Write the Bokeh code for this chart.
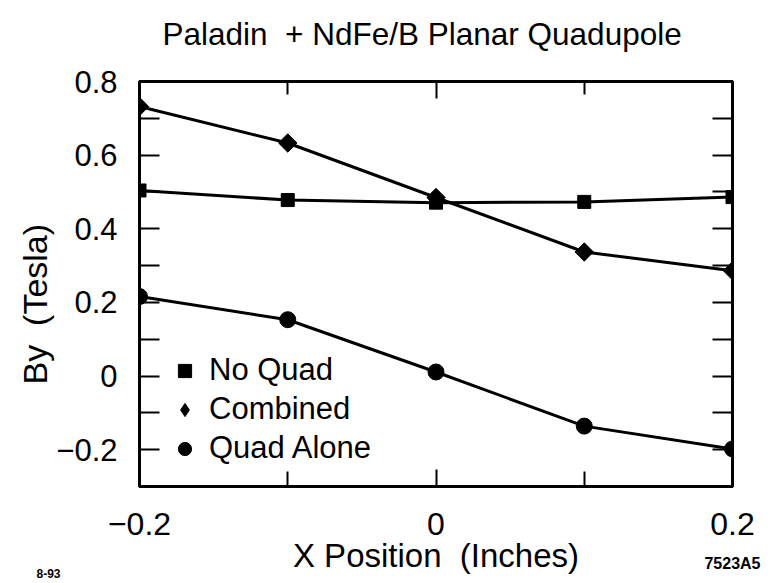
import math
from bokeh.plotting import figure
from bokeh.models import (LinearAxis, FixedTicker, Range1d, Legend, LegendItem, Title)
from bokeh.embed import file_html
from bokeh.resources import INLINE

# ---- data ----
x_pos = [-0.2, -0.1, 0.0, 0.1, 0.2]
no_quad = [0.504, 0.478, 0.471, 0.473, 0.486]
combined = [0.732, 0.633, 0.485, 0.337, 0.286]
quad_alone = [0.216, 0.153, 0.011, -0.136, -0.198]

x_ticks = [-0.2, 0.0, 0.2]
x_tick_labels = ["\u22120.2", "0", "0.2"]
x_minor = [-0.1, 0.1]
y_ticks = [-0.2, 0.0, 0.2, 0.4, 0.6, 0.8]
y_tick_labels = ["\u22120.2", "0", "0.2", "0.4", "0.6", "0.8"]
y_minor = [-0.3, -0.1, 0.1, 0.3, 0.5, 0.7]

title_text = "Paladin \u00a0+ NdFe/B Planar Quadupole"
x_title = "X Position \u00a0(Inches)"
y_title = "By \u00a0(Tesla)"
fig_id = "7523A5"
fig_id_at = [0.2]
date_id = "8-93"

SANS = "Liberation Sans"

W, H = 780, 583
FL, FR, FT, FB = 139, 732, 81, 486   # frame edges in canvas pixels

p = figure(width=W, height=H, x_range=Range1d(-0.2, 0.2), y_range=Range1d(-0.3, 0.8),
           output_backend="svg", toolbar_location=None, title=None,
           min_border_left=FL, min_border_right=W - FR, min_border_top=FT, min_border_bottom=H - FB,
           x_axis_location=None, y_axis_location=None)
p.grid.visible = False
p.outline_line_color = "black"
p.outline_line_width = 3
p.background_fill_color = "white"
p.border_fill_color = "white"

def make_axis(ticks, minor, labels, label_color, tick_in, minor_in, font_size, standoff):
    ax = LinearAxis(ticker=FixedTicker(ticks=ticks, minor_ticks=minor))
    ax.major_label_overrides = {t: l for t, l in zip(ticks, labels)}
    ax.axis_line_color = "black"
    ax.axis_line_width = 3
    ax.major_tick_line_color = "black"
    ax.minor_tick_line_color = "black"
    ax.major_tick_line_width = 2
    ax.minor_tick_line_width = 2
    ax.major_tick_in = tick_in
    ax.major_tick_out = 0
    ax.minor_tick_in = minor_in
    ax.minor_tick_out = 0
    ax.major_label_text_font = SANS
    ax.major_label_text_font_size = font_size
    ax.major_label_text_color = label_color
    ax.major_label_standoff = standoff
    return ax

# bottom: tick labels
p.add_layout(make_axis(x_ticks, x_minor, x_tick_labels, "black", 17, 15, "32px", 26), "below")
# bottom, second row: figure id under the right edge + axis title
ax_b = LinearAxis(ticker=FixedTicker(ticks=fig_id_at, minor_ticks=[]),
                  major_label_overrides={fig_id_at[0]: fig_id})
ax_b.axis_line_color = None
ax_b.major_tick_line_color = None
ax_b.minor_tick_line_color = None
ax_b.major_tick_in = 0
ax_b.major_tick_out = 0
ax_b.major_label_standoff = 17
ax_b.major_label_text_font = SANS
ax_b.major_label_text_font_size = "16px"
ax_b.major_label_text_font_style = "bold"
ax_b.major_label_text_color = "black"
ax_b.axis_label = x_title
ax_b.axis_label_text_font = SANS
ax_b.axis_label_text_font_size = "33px"
ax_b.axis_label_text_font_style = "normal"
ax_b.axis_label_text_color = "black"
ax_b.axis_label_standoff = -38
p.add_layout(ax_b, "below")
p.add_layout(Title(text=date_id, align="left", offset=-103, standoff=-15, vertical_align="top",
                   text_font=SANS, text_font_size="12px", text_font_style="bold",
                   text_color="black"), "below")

# top ticks (labels are tiny and white: the row only spaces the title)
p.add_layout(make_axis(x_ticks, x_minor, x_tick_labels, "white", 17, 13, "1px", 26), "above")
p.add_layout(Title(text=title_text, align="left", offset=23, standoff=0,
                   text_font=SANS, text_font_size="31.5px", text_font_style="normal",
                   text_color="black"), "above")

p.add_layout(make_axis(y_ticks, y_minor, y_tick_labels, "black", 20, 20, "31px", 22), "left")
p.add_layout(Title(text=y_title, align="left", offset=102, standoff=0,
                   text_font=SANS, text_font_size="34px", text_font_style="normal",
                   text_color="black"), "left")
p.add_layout(make_axis(y_ticks, y_minor, y_tick_labels, None, 20, 20, "1px", 0), "right")

# ---- series ----
for ys in (no_quad, combined, quad_alone):
    p.line(x_pos, ys, line_color="black", line_width=3)

r_nq = p.scatter(x_pos, no_quad, marker="square", size=13, color="black")
r_cb = p.scatter(x_pos, combined, marker="square", angle=math.pi / 4, size=13, color="black")
r_qa = p.scatter(x_pos, quad_alone, marker="circle", size=16, color="black")
# legend-only glyph for the diamond (legend glyphs ignore marker angle)
r_cb_leg = p.scatter(x_pos, combined, marker="diamond", size=18, color="black", visible=False)

legend = Legend(items=[LegendItem(label="No Quad", renderers=[r_nq]),
                       LegendItem(label="Combined", renderers=[r_cb_leg]),
                       LegendItem(label="Quad Alone", renderers=[r_qa])],
                location=(29, 20), orientation="vertical",
                glyph_width=33, glyph_height=33, label_height=33, spacing=3,
                label_standoff=8, padding=0, margin=0,
                label_text_font=SANS, label_text_font_size="31px", label_text_color="black",
                border_line_color=None, background_fill_alpha=0)
p.add_layout(legend, "center")

open("out.html", "w").write(file_html(p, INLINE))
